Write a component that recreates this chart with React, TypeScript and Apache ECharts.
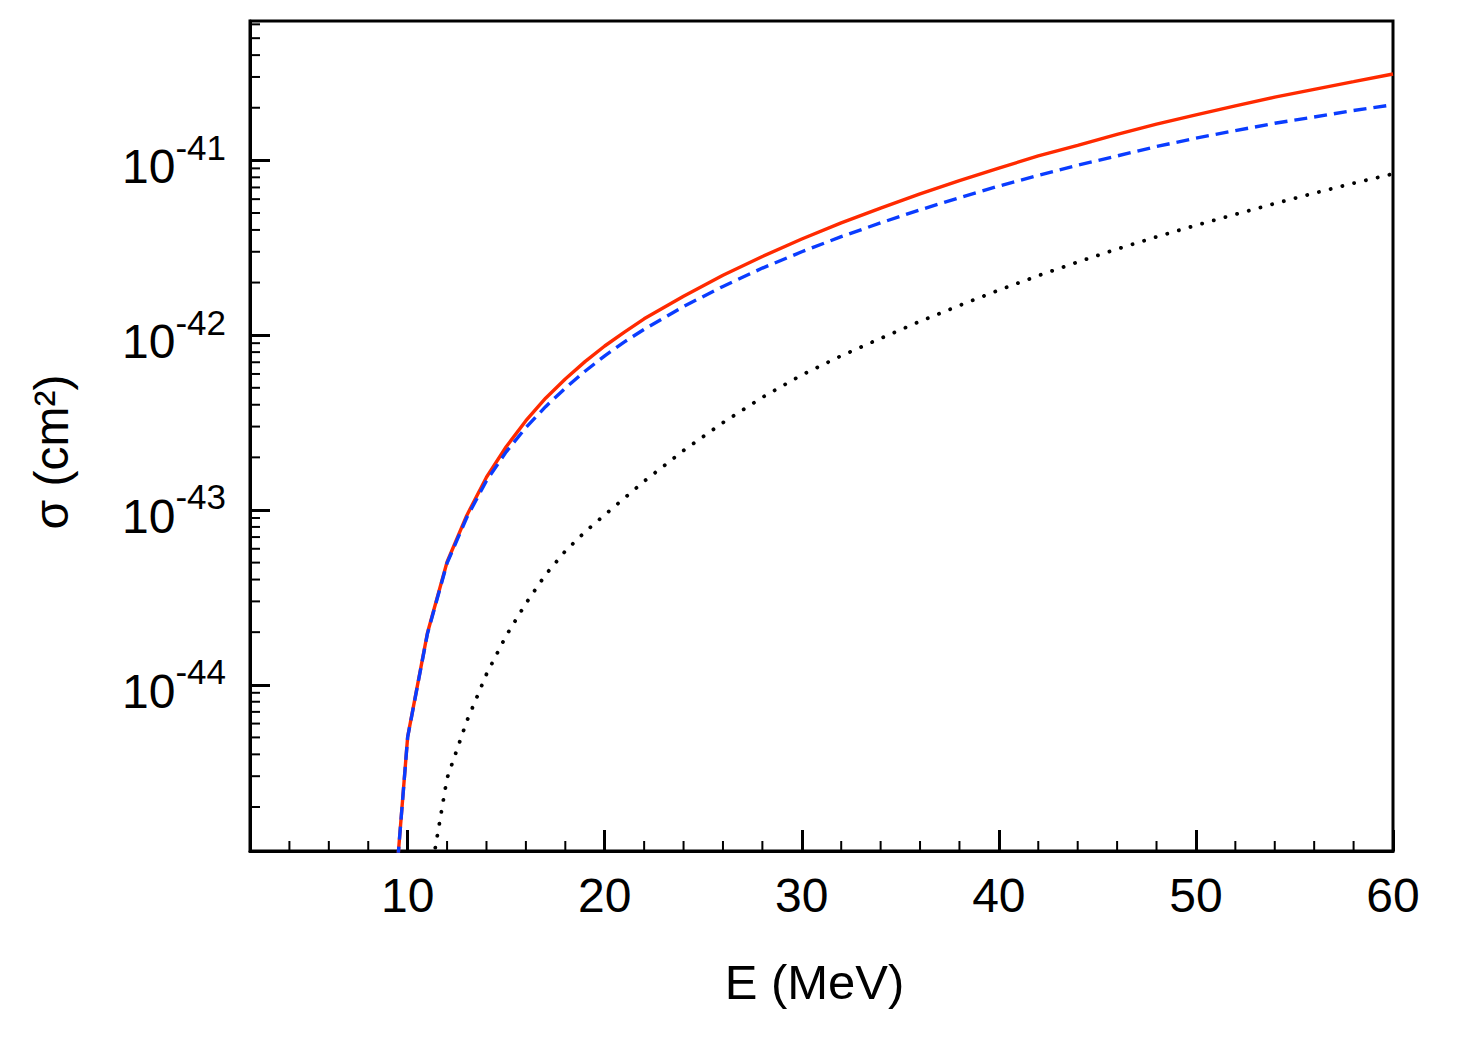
import React, { useEffect, useRef } from "react";
import * as echarts from "echarts";

// Neutrino energy grid (MeV) for the solid and dashed curves
const ENERGY = [
  9.5, 10, 11, 12, 13, 14, 15, 16, 17, 18, 19, 20, 21, 22, 24, 26, 28, 30, 32,
  34, 36, 38, 40, 42, 44, 46, 48, 50, 52, 54, 56, 58, 60,
];

// Cross sections (cm^2), solid red curve
const SIGMA_SOLID = [
  1.0e-45, 5.04e-45, 1.97e-44, 5.04e-44, 9.31e-44, 1.54e-43, 2.3e-43,
  3.24e-43, 4.36e-43, 5.62e-43, 7.06e-43, 8.67e-43, 1.04e-42, 1.24e-42,
  1.67e-42, 2.2e-42, 2.82e-42, 3.55e-42, 4.39e-42, 5.33e-42, 6.43e-42,
  7.66e-42, 9.04e-42, 1.06e-41, 1.22e-41, 1.41e-41, 1.61e-41, 1.82e-41,
  2.05e-41, 2.3e-41, 2.55e-41, 2.82e-41, 3.12e-41,
];

// Cross sections (cm^2), dashed blue curve
const SIGMA_DASHED = [
  1.0e-45, 5.01e-45, 1.95e-44, 4.97e-44, 9.06e-44, 1.47e-43, 2.15e-43,
  2.96e-43, 3.9e-43, 4.98e-43, 6.22e-43, 7.62e-43, 9.16e-43, 1.08e-42,
  1.46e-42, 1.9e-42, 2.42e-42, 3.0e-42, 3.66e-42, 4.39e-42, 5.21e-42,
  6.12e-42, 7.13e-42, 8.2e-42, 9.38e-42, 1.06e-41, 1.2e-41, 1.34e-41,
  1.48e-41, 1.63e-41, 1.77e-41, 1.93e-41, 2.08e-41,
];

// Energy grid (MeV) and cross sections (cm^2) for the dotted black curve
const ENERGY_DOTTED = [
  11.3, 12, 13, 14, 15, 16, 17, 18, 19, 20, 21, 22, 24, 26, 28, 30, 32, 34, 36,
  38, 40, 42, 44, 46, 48, 50, 52, 54, 56, 58, 60,
];
const SIGMA_DOTTED = [
  1.0e-45, 2.92e-45, 6.19e-45, 1.15e-44, 1.91e-44, 2.92e-44, 4.27e-44,
  5.82e-44, 7.5e-44, 9.38e-44, 1.17e-43, 1.46e-43, 2.19e-43, 3.16e-43,
  4.41e-43, 5.92e-43, 7.62e-43, 9.59e-43, 1.2e-42, 1.48e-42, 1.81e-42,
  2.19e-42, 2.62e-42, 3.11e-42, 3.65e-42, 4.25e-42, 4.91e-42, 5.66e-42,
  6.49e-42, 7.4e-42, 8.37e-42,
];

// Axis ranges
const X_MIN = 2;
const X_MAX = 60;
const Y_MIN = 1.12e-45;
const Y_MAX = 6.27e-41;

// Minor tick positions
const X_MINOR_TICKS = [
  4, 6, 8, 12, 14, 16, 18, 22, 24, 26, 28, 32, 34, 36, 38, 42, 44, 46, 48, 52,
  54, 56, 58,
];
const DECADE_EXPONENTS = [-45, -44, -43, -42, -41];
const DECADE_MANTISSAS = [2, 3, 4, 5, 6, 7, 8, 9];

const FONT = "Liberation Sans";
const INK = "#000000";

function pairs(xs: number[], ys: number[]): number[][] {
  return xs.map((x, i) => [x, ys[i]]);
}

export default function App() {
  const ref = useRef<HTMLDivElement | null>(null);

  useEffect(() => {
    if (!ref.current) return;
    const chart = echarts.init(ref.current, null, { renderer: "svg" });

    const yMinor: number[][] = [];
    DECADE_EXPONENTS.forEach((e) => {
      DECADE_MANTISSAS.forEach((m) => {
        const v = m * Math.pow(10, e);
        if (v > Y_MIN && v < Y_MAX) yMinor.push([X_MIN, v]);
      });
    });
    const xMinor = X_MINOR_TICKS.map((e) => [e, Y_MIN]);

    chart.setOption({
      animation: false,
      backgroundColor: "#ffffff",
      grid: {
        left: 250,
        right: 64,
        top: 21,
        bottom: 189,
        show: true,
        borderColor: INK,
        borderWidth: 3,
        backgroundColor: "transparent",
      },
      xAxis: {
        type: "value",
        min: X_MIN,
        max: X_MAX,
        splitNumber: 5,
        name: "E (MeV)",
        nameLocation: "middle",
        nameGap: 106,
        nameTextStyle: {
          fontFamily: FONT,
          fontSize: 49,
          color: INK,
          padding: [0, 14, 0, 0],
        },
        axisLine: { show: true, onZero: false, lineStyle: { color: INK, width: 3 } },
        axisTick: { show: true, inside: true, length: 21, lineStyle: { color: INK, width: 3 } },
        minorTick: { show: false },
        splitLine: { show: false },
        axisLabel: {
          showMinLabel: false,
          margin: 20,
          fontFamily: FONT,
          fontSize: 48,
          color: INK,
        },
      },
      yAxis: {
        type: "log",
        logBase: 10,
        min: Y_MIN,
        max: Y_MAX,
        name: "σ (cm²)",
        nameLocation: "middle",
        nameRotate: 90,
        nameGap: 175,
        nameTextStyle: {
          fontFamily: FONT,
          fontSize: 48,
          color: INK,
          padding: [0, 32, 0, 0],
        },
        axisLine: { show: true, lineStyle: { color: INK, width: 3 } },
        axisTick: { show: true, inside: true, length: 20, lineStyle: { color: INK, width: 3 } },
        minorTick: { show: false },
        splitLine: { show: false },
        axisLabel: {
          showMinLabel: false,
          showMaxLabel: false,
          margin: 24,
          formatter: (v: number) =>
            `{base|10}{exp|${Math.round(Math.log10(v))}}`,
          rich: {
            base: {
              fontFamily: FONT,
              fontSize: 48,
              lineHeight: 48,
              color: INK,
              padding: [13, 0, 0, 0],
            },
            exp: {
              fontFamily: FONT,
              fontSize: 35,
              lineHeight: 35,
              color: INK,
              padding: [0, 0, 26, 0],
            },
          },
        },
      },
      series: [
        {
          name: "dotted",
          type: "line",
          data: pairs(ENERGY_DOTTED, SIGMA_DOTTED),
          showSymbol: false,
          symbol: "none",
          clip: true,
          lineStyle: { color: "#000000", width: 3.8, type: [0.1, 12], cap: "round" },
        },
        {
          name: "solid",
          type: "line",
          data: pairs(ENERGY, SIGMA_SOLID),
          showSymbol: false,
          symbol: "none",
          clip: true,
          lineStyle: { color: "#ff2a00", width: 3.4, type: "solid" },
        },
        {
          name: "dashed",
          type: "line",
          data: pairs(ENERGY, SIGMA_DASHED),
          showSymbol: false,
          symbol: "none",
          clip: true,
          lineStyle: { color: "#0a3cff", width: 3.4, type: [13, 7] },
        },
        {
          name: "yMinorTicks",
          type: "custom",
          silent: true,
          data: yMinor,
          renderItem: (_params: any, api: any) => {
            const p = api.coord([api.value(0), api.value(1)]);
            return {
              type: "line",
              shape: { x1: p[0], y1: p[1], x2: p[0] + 10, y2: p[1] },
              style: { stroke: INK, lineWidth: 2 },
            };
          },
        },
        {
          name: "xMinorTicks",
          type: "custom",
          silent: true,
          data: xMinor,
          renderItem: (_params: any, api: any) => {
            const p = api.coord([api.value(0), api.value(1)]);
            return {
              type: "line",
              shape: { x1: p[0], y1: p[1], x2: p[0], y2: p[1] - 10 },
              style: { stroke: INK, lineWidth: 2 },
            };
          },
        },
      ],
    });

    return () => chart.dispose();
  }, []);

  return (
    <div
      ref={ref}
      style={{ position: "absolute", left: 0, top: 0, width: 1457, height: 1040 }}
    />
  );
}
